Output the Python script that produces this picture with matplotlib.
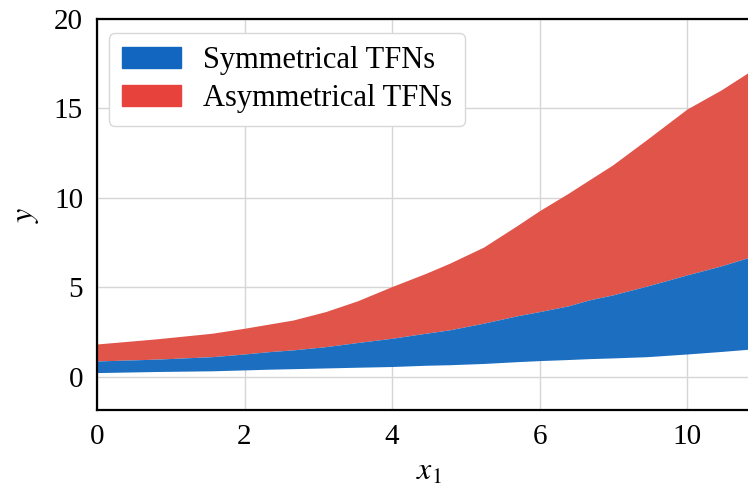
import numpy as np
import matplotlib.pyplot as plt
from matplotlib.patches import Patch

# x positions along the axis and the tick labels printed under them
x1 = [0, 0.79, 1.56, 2.0, 2.33, 2.66, 3.10, 3.53, 4.0, 4.46, 4.78, 5.24,
      5.69, 6.0, 6.39, 6.67, 6.99, 7.46, 8.0, 8.46, 8.85, 9.0]
tick_pos = [0, 2, 4, 6, 8]
tick_labels = ["0", "2", "4", "6", "10"]
y_ticks = [0, 5, 10, 15, 20]

# band limits
sym_low = [0.24, 0.30, 0.34, 0.39, 0.43, 0.46, 0.50, 0.54, 0.58, 0.65, 0.68,
           0.75, 0.85, 0.91, 0.97, 1.02, 1.06, 1.13, 1.28, 1.42, 1.55, 1.60]
sym_high = [0.89, 0.99, 1.13, 1.28, 1.41, 1.51, 1.69, 1.92, 2.16, 2.44, 2.63,
            3.00, 3.41, 3.65, 3.97, 4.30, 4.58, 5.08, 5.70, 6.20, 6.69, 6.80]
asym_high = [1.84, 2.12, 2.44, 2.72, 2.95, 3.18, 3.65, 4.25, 5.05, 5.79, 6.35,
             7.25, 8.44, 9.29, 10.26, 11.00, 11.84, 13.28, 14.97, 16.03,
             17.06, 17.40]

labels = ["Symmetrical TFNs", "Asymmetrical TFNs"]

plt.rcParams['font.family'] = ['Liberation Serif', 'DejaVu Serif']
plt.rcParams['mathtext.fontset'] = 'stix'

fig = plt.figure(figsize=(7.48, 4.92), dpi=100)
ax = fig.add_axes([97 / 748, 1 - 410 / 492, 663.75 / 748, 391 / 492])

ax.fill_between(x1, sym_high, asym_high, color="#e0544a", lw=0, zorder=2)
ax.fill_between(x1, sym_low, sym_high, color="#1c6fc0", lw=0, zorder=2)

ax.set_xlim(0, 9.0)
ax.set_ylim(-1.85, 20)
ax.set_xticks(tick_pos)
ax.set_xticklabels(tick_labels)
ax.set_yticks(y_ticks)
ax.tick_params(length=0, labelsize=21, pad=10)
ax.grid(True, color="#d6d6d6", lw=1.0, zorder=0)
ax.set_axisbelow(True)
for s in ax.spines.values():
    s.set_color("black")
    s.set_linewidth(1.6)

ax.set_xlabel("$x_1$", fontsize=23, labelpad=6)
ax.set_ylabel("$y$", fontsize=23, labelpad=9)

handles = [Patch(color="#1366c0"), Patch(color="#e8423c")]
leg = ax.legend(handles, labels, loc="upper left", fontsize=22,
                bbox_to_anchor=(0.018, 0.964), borderaxespad=0,
                handlelength=1.95, handleheight=0.7, handletextpad=0.7,
                labelspacing=0.3, borderpad=0.42, fancybox=True,
                framealpha=1)
leg.get_frame().set_edgecolor("#d8d8d8")
leg.get_frame().set_linewidth(1.0)

plt.savefig("out.png", dpi=100)
